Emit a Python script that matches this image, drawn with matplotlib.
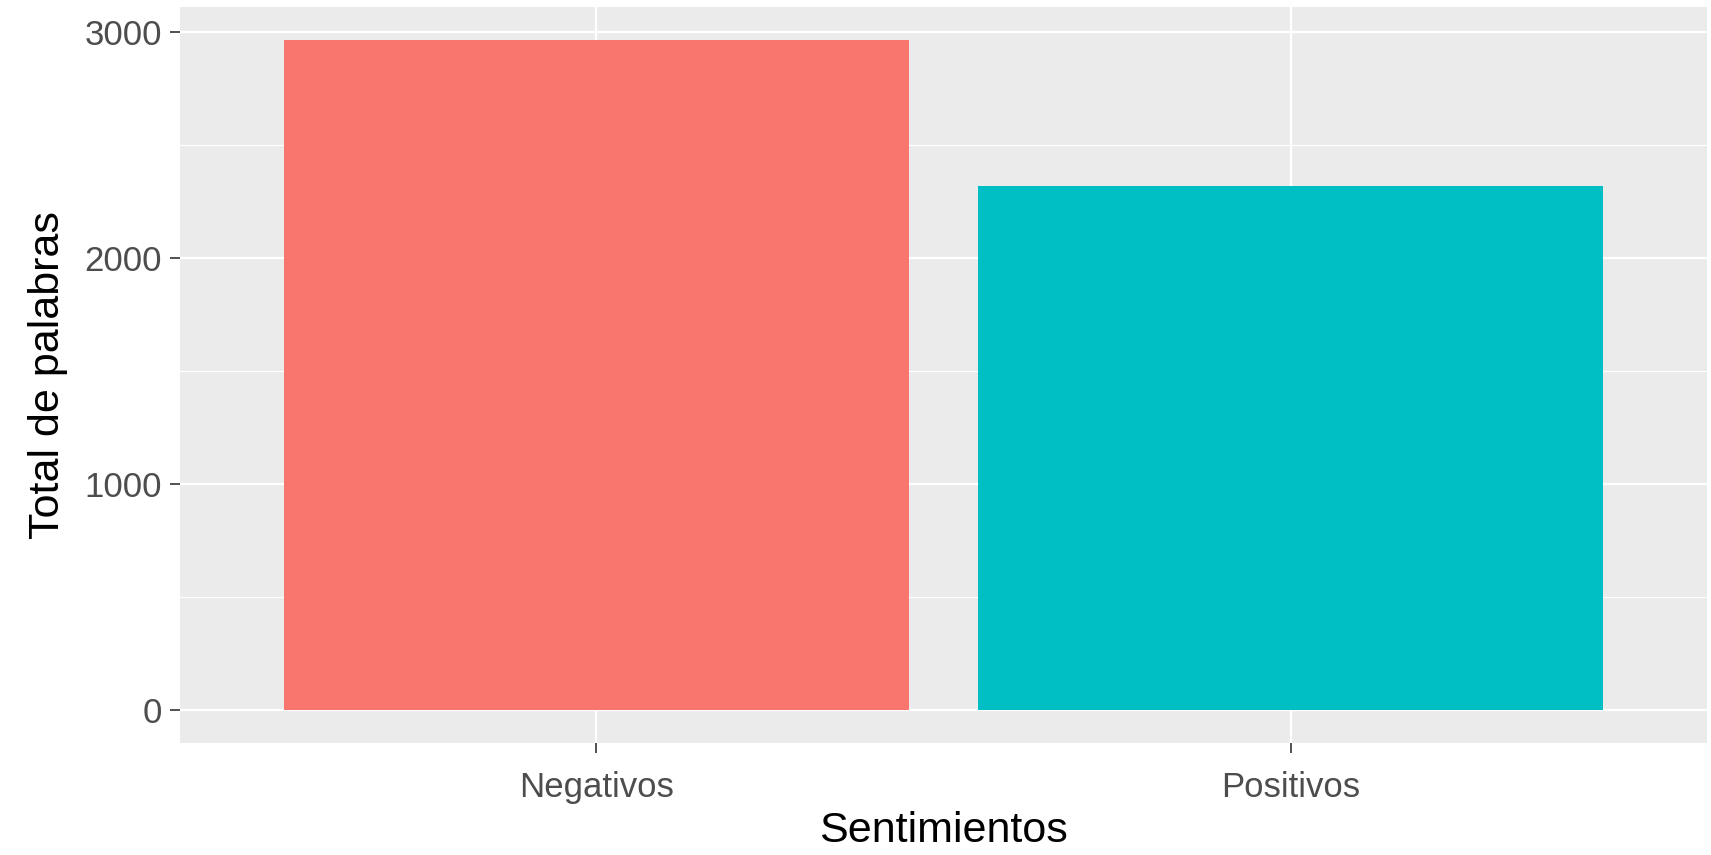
import matplotlib.pyplot as plt
from matplotlib.ticker import MultipleLocator

sentimientos = ['Negativos', 'Positivos']
total = [2965, 2318]
colores = ['#F8766D', '#00BFC4']

plt.rcParams['font.family'] = ['Liberation Sans', 'DejaVu Sans']

fig = plt.figure(figsize=(17.11, 8.55), dpi=100)
ax = fig.add_axes([0.1052, 0.131, 0.8925, 0.861])

x = [1, 2]
ax.bar(x, total, width=0.9, color=colores, zorder=3)

# ggplot-like look
ax.set_facecolor('#EBEBEB')
ax.set_xlim(0.4, 2.6)
ymax = max(total)
ax.set_ylim(-0.05 * ymax, 1.05 * ymax)
ax.yaxis.set_major_locator(MultipleLocator(1000))
ax.yaxis.set_minor_locator(MultipleLocator(500))
ax.set_xticks(x)
ax.set_xticklabels(sentimientos)
ax.grid(which='major', color='white', linewidth=1.6, zorder=0)
ax.grid(which='minor', axis='y', color='white', linewidth=0.8, zorder=0)
ax.set_axisbelow(True)
for s in ax.spines.values():
    s.set_visible(False)
ax.tick_params(axis='both', which='major', length=7, width=1.2, color='#333333',
               labelsize=25, labelcolor='#4D4D4D')
ax.tick_params(axis='x', pad=13)
ax.tick_params(axis='y', pad=6)
ax.tick_params(axis='y', which='minor', length=0)

ax.set_xlabel('Sentimientos', fontsize=31, color='black', labelpad=5)
ax.set_ylabel('Total de palabras', fontsize=31, color='black', labelpad=12)

fig.savefig('out.png', dpi=100)
